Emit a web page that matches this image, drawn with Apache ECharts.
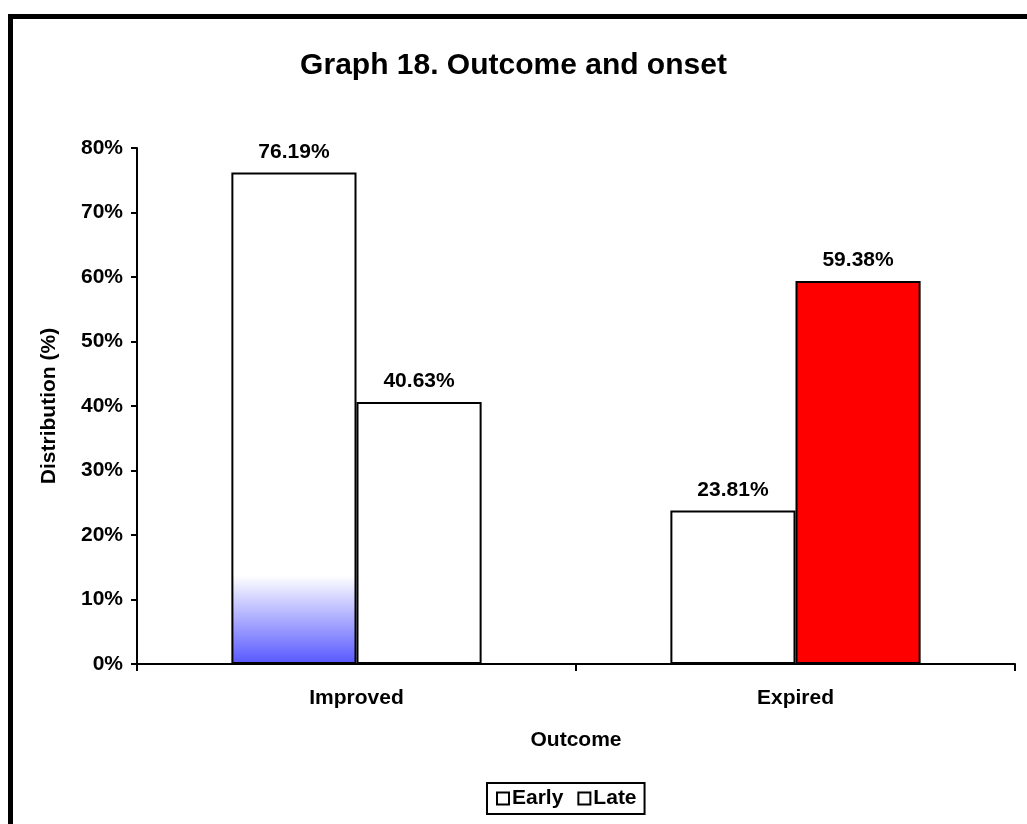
<!DOCTYPE html>
<html>
<head>
<meta charset="utf-8">
<script src="https://cdn.jsdelivr.net/npm/echarts@6/dist/echarts.min.js"></script>
<style>
  html, body { margin: 0; padding: 0; background: #fff; }
  #chart { width: 1027px; height: 824px; }
</style>
</head>
<body>
<div id="chart"></div>
<script>
// Outcome categories and onset groups
const categories = ['Improved', 'Expired'];
const earlyValues = [76.19, 23.81];
const lateValues = [40.63, 59.38];
const yTicks = [0, 10, 20, 30, 40, 50, 60, 70, 80];

const FONT = '"Liberation Sans", Arial, sans-serif';
const TXT = 21;

// Bar fills: Improved/Early fades from blue at the base to white
const earlyFill = [
  {
    type: 'linear', x: 0, y: 0, x2: 0, y2: 1,
    colorStops: [
      { offset: 0, color: '#ffffff' },
      { offset: 0.82, color: '#ffffff' },
      { offset: 1, color: '#5757ff' }
    ]
  },
  '#ffffff'
];
const lateFill = ['#ffffff', '#ff0000'];

const chart = echarts.init(document.getElementById('chart'), null, { renderer: 'canvas' });

const labelStyle = {
  show: true,
  position: 'top',
  distance: 10,
  color: '#000',
  fontFamily: FONT,
  fontWeight: 'bold',
  fontSize: TXT,
  formatter: p => p.value.toFixed(2) + '%'
};

chart.setOption({
  backgroundColor: '#ffffff',
  animation: false,
  title: {
    text: 'Graph 18. Outcome and onset',
    left: 'center',
    top: 46,
    textStyle: { fontFamily: FONT, fontWeight: 'bold', fontSize: 30, color: '#000' }
  },
  graphic: [
    {
      type: 'rect',
      shape: { x: 10.5, y: 16.5, width: 1040, height: 840 },
      style: { fill: 'none', stroke: '#000', lineWidth: 5 },
      silent: true,
      z: 100
    }
  ],
  legend: {
    data: ['Early', 'Late'],
    bottom: 10,
    left: 487,
    itemWidth: 12,
    itemHeight: 12,
    itemGap: 14,
    padding: [5, 8, 5, 9],
    borderColor: '#000',
    borderWidth: 2,
    icon: 'rect',
    textStyle: { fontFamily: FONT, fontWeight: 'bold', fontSize: TXT, color: '#000', padding: [0, 0, 0, -2] },
    itemStyle: { color: '#ffffff', borderColor: '#000', borderWidth: 2 }
  },
  grid: { left: 137, right: 12, top: 148, bottom: 160 },
  xAxis: {
    type: 'category',
    data: categories,
    name: 'Outcome',
    nameLocation: 'middle',
    nameGap: 66,
    nameTextStyle: { fontFamily: FONT, fontWeight: 'bold', fontSize: TXT, color: '#000' },
    axisLine: { lineStyle: { color: '#000', width: 2 } },
    axisTick: { show: true, length: 7, lineStyle: { color: '#000', width: 2 } },
    axisLabel: { fontFamily: FONT, fontWeight: 'bold', fontSize: TXT, color: '#000', margin: 24 },
    splitLine: { show: false }
  },
  yAxis: {
    type: 'value',
    min: yTicks[0],
    max: yTicks[yTicks.length - 1],
    interval: 10,
    name: 'Distribution (%)',
    nameLocation: 'middle',
    nameGap: 77,
    nameTextStyle: { fontFamily: FONT, fontWeight: 'bold', fontSize: TXT, color: '#000' },
    axisLine: { show: true, lineStyle: { color: '#000', width: 2 } },
    axisTick: { show: true, length: 6, lineStyle: { color: '#000', width: 2 } },
    axisLabel: { fontFamily: FONT, fontWeight: 'bold', fontSize: TXT, color: '#000', margin: 14, formatter: v => v + '%' },
    splitLine: { show: false }
  },
  series: [
    {
      name: 'Early',
      type: 'bar',
      barCategoryGap: '43%',
      barGap: '0%',
      data: earlyValues.map((v, i) => ({ value: v, itemStyle: { color: earlyFill[i] } })),
      itemStyle: { borderColor: '#000', borderWidth: 2 },
      label: labelStyle
    },
    {
      name: 'Late',
      type: 'bar',
      barCategoryGap: '43%',
      barGap: '0%',
      data: lateValues.map((v, i) => ({ value: v, itemStyle: { color: lateFill[i] } })),
      itemStyle: { borderColor: '#000', borderWidth: 2 },
      label: labelStyle
    }
  ]
});
</script>
</body>
</html>
